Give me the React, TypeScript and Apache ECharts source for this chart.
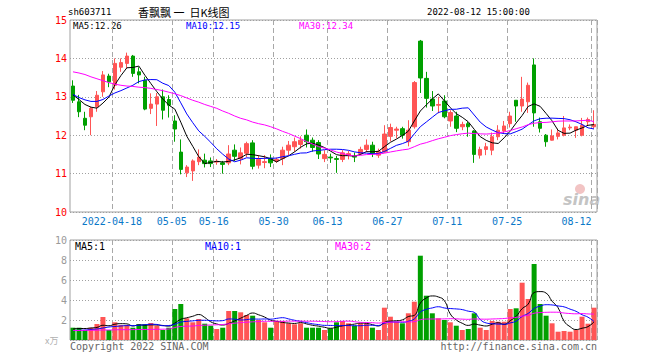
import React, { useEffect, useRef } from "react";
import * as echarts from "echarts";

const dates = [
  "2022-04-07","2022-04-08","2022-04-11","2022-04-12","2022-04-13","2022-04-14","2022-04-15","2022-04-18","2022-04-19","2022-04-20",
  "2022-04-21","2022-04-22","2022-04-25","2022-04-26","2022-04-27","2022-04-28","2022-04-29","2022-05-05","2022-05-06","2022-05-09",
  "2022-05-10","2022-05-11","2022-05-12","2022-05-13","2022-05-16","2022-05-17","2022-05-18","2022-05-19","2022-05-20","2022-05-23",
  "2022-05-24","2022-05-25","2022-05-26","2022-05-27","2022-05-30","2022-05-31","2022-06-01","2022-06-02","2022-06-06","2022-06-07",
  "2022-06-08","2022-06-09","2022-06-10","2022-06-13","2022-06-14","2022-06-15","2022-06-16","2022-06-17","2022-06-20","2022-06-21",
  "2022-06-22","2022-06-23","2022-06-24","2022-06-27","2022-06-28","2022-06-29","2022-06-30","2022-07-01","2022-07-04","2022-07-05",
  "2022-07-06","2022-07-07","2022-07-08","2022-07-11","2022-07-12","2022-07-13","2022-07-14","2022-07-15","2022-07-18","2022-07-19",
  "2022-07-20","2022-07-21","2022-07-22","2022-07-25","2022-07-26","2022-07-27","2022-07-28","2022-07-29","2022-08-01","2022-08-02",
  "2022-08-03","2022-08-04","2022-08-05","2022-08-08","2022-08-09","2022-08-10","2022-08-11","2022-08-12",
];

const tickDates = ["2022-04-18","2022-05-05","2022-05-16","2022-05-30","2022-06-13","2022-06-27","2022-07-11","2022-07-25","2022-08-12"];

const opens = [
  13.28,12.87,12.44,12.48,12.74,13.13,13.54,13.30,13.77,13.87,
  14.06,13.65,13.43,12.70,12.81,13.00,12.93,12.37,11.56,11.02,
  11.07,11.31,11.35,11.33,11.30,11.28,11.28,11.61,11.39,11.53,
  11.80,11.22,11.29,11.40,11.33,11.39,11.61,11.70,11.76,12.00,
  11.87,11.81,11.39,11.43,11.39,11.37,11.48,11.45,11.52,11.63,
  11.74,11.48,11.56,11.97,12.13,12.17,11.83,12.22,14.45,13.48,
  12.94,12.78,12.89,12.37,12.50,12.22,12.30,12.11,11.48,11.63,
  11.61,11.96,12.11,12.30,12.91,12.76,12.87,13.83,12.35,12.00,
  11.87,11.97,12.00,12.19,12.13,12.00,12.35,12.22,
];
const closes = [
  12.91,12.61,12.26,12.70,13.04,13.57,13.39,13.87,13.89,14.06,
  13.61,13.57,12.68,12.81,13.00,12.65,12.78,12.16,11.11,11.17,
  11.33,11.43,11.26,11.26,11.32,11.24,11.51,11.45,11.54,11.78,
  11.19,11.37,11.31,11.28,11.37,11.61,11.74,11.83,11.87,11.83,
  11.68,11.51,11.50,11.41,11.37,11.54,11.52,11.43,11.63,11.74,
  11.52,11.58,12.03,12.20,12.16,12.00,12.13,13.37,13.49,12.96,
  12.76,12.80,12.48,12.59,12.18,12.28,12.22,11.50,11.63,11.70,
  11.96,12.13,12.24,12.50,12.76,12.94,13.30,12.58,12.18,11.83,
  11.98,12.06,12.19,12.21,12.22,12.26,12.41,12.28,
];
const highs = [
  13.43,13.05,12.61,12.74,13.15,13.67,13.60,14.00,14.00,14.15,
  14.09,13.77,13.52,13.09,13.10,13.19,13.04,12.52,11.89,11.22,
  11.37,11.63,11.52,11.42,11.38,11.33,11.74,11.76,11.68,11.83,
  11.87,11.48,11.48,11.50,11.42,11.70,11.85,11.94,11.97,12.15,
  11.94,11.87,11.61,11.52,11.46,11.61,11.59,11.55,11.70,11.89,
  11.83,11.65,12.26,12.30,12.22,12.22,12.39,13.41,14.48,13.65,
  13.15,13.00,13.04,12.65,12.61,12.35,12.35,12.13,11.70,11.80,
  12.07,12.26,12.37,12.61,12.91,13.52,13.37,14.00,12.46,12.03,
  12.15,12.17,12.50,12.28,12.22,12.45,12.46,12.65,
];
const lows = [
  12.84,12.47,12.13,12.00,12.61,13.00,13.25,13.19,13.65,13.74,
  13.52,13.35,12.65,12.55,12.24,12.41,12.46,11.83,10.98,10.91,
  10.81,11.22,11.16,11.17,11.23,11.00,11.22,11.33,11.24,11.43,
  11.11,11.13,11.14,11.17,11.28,11.22,11.48,11.57,11.65,11.68,
  11.57,11.38,11.30,11.28,11.02,11.30,11.37,11.30,11.48,11.56,
  11.43,11.41,11.54,11.84,11.92,11.91,11.71,12.17,13.10,12.72,
  12.63,12.57,12.44,12.22,12.08,12.13,11.96,11.28,11.39,11.48,
  11.48,11.87,12.04,12.20,12.35,12.61,12.58,12.22,12.07,11.70,
  11.86,11.89,11.97,12.13,11.93,11.97,12.24,12.17,
];
// volume in 万手
const volumes = [
  1.23,1.23,1.0,1.23,1.6,2.3,1.0,1.77,1.5,1.5,
  1.23,1.57,1.57,1.7,1.43,1.0,1.23,3.1,3.6,2.17,
  1.77,2.1,1.63,1.43,1.1,1.23,2.9,2.9,2.77,2.5,
  2.43,2.0,1.77,1.23,1.9,1.9,1.67,1.57,1.67,1.23,
  1.23,1.23,1.0,1.17,1.77,1.9,1.67,1.43,1.67,1.67,
  1.23,1.0,3.23,2.33,1.83,1.67,2.67,3.83,8.43,4.43,
  2.67,2.17,2.0,1.77,1.43,1.0,1.1,2.67,1.23,1.0,
  1.9,1.83,1.83,3.1,3.17,5.73,4.1,7.6,3.6,2.43,
  1.67,0.83,0.9,0.83,1.0,2.33,1.63,3.23,
];

const ma5Head = [13.05, 12.93, 12.8, 12.73];
const ma10Head = [13.06, 12.98, 12.92, 12.88, 12.88, 12.93, 13.02, 13.1, 13.16];
const ma30Head = [
  13.65,13.62,13.58,13.52,13.47,13.42,13.37,13.33,13.3,13.28,
  13.27,13.25,13.24,13.22,13.19,13.16,13.12,13.08,13.03,12.97,
  12.91,12.86,12.8,12.75,12.7,12.63,12.57,12.5,12.44,
];
const volMa5Head = [1.1, 1.15, 1.15, 1.2];
const volMa10Head = [0.95, 0.97, 1.0, 1.05, 1.1, 1.2, 1.3, 1.35, 1.4];
const volMa30Head = [
  0.95,0.95,0.96,0.97,0.98,1.0,1.0,1.02,1.03,1.03,
  1.04,1.05,1.05,1.06,1.07,1.08,1.1,1.25,1.35,1.38,
  1.4,1.45,1.48,1.5,1.52,1.55,1.62,1.68,1.74,
];

const UP = "#ff5555";
const DOWN = "#00a000";
const MONO = "DejaVu Sans Mono";

function movingAvg(values: number[], n: number, head: number[]) {
  return values.map((_, i) => {
    if (i < n - 1) return head[i];
    let s = 0;
    for (let k = i - n + 1; k <= i; k++) s += values[k];
    return +(s / n).toFixed(3);
  });
}

export default function App() {
  const ref = useRef<HTMLDivElement>(null);
  useEffect(() => {
    const chart = echarts.init(ref.current!, null, { renderer: "svg" });
    const candleData = dates.map((_, i) => [opens[i], closes[i], lows[i], highs[i]]);
    const volData = volumes.map((v, i) => ({
      value: v,
      itemStyle: { color: closes[i] >= opens[i] ? UP : DOWN },
    }));
    const tickIdx = tickDates.map((d) => dates.indexOf(d));
    const showTick = (idx: number) => tickIdx.includes(idx);
    const lastIdx = dates.length - 1;
    const splitLine = { show: true, interval: showTick, lineStyle: { type: [5, 3], color: "#a8a8a8", width: 1 } };
    const txt = (text: string, x: number, y: number, fill: string, extra: any = {}) => ({
      type: "text",
      x,
      y,
      silent: true,
      style: { text, fill, font: `9px "${MONO}"`, textVerticalAlign: "middle", ...extra },
    });
    const line = (data: number[], color: string, xi: number, smooth = false) => ({
      type: "line",
      data,
      xAxisIndex: xi,
      yAxisIndex: xi,
      showSymbol: false,
      symbol: "none",
      smooth,
      lineStyle: { color, width: 1 },
      z: 3,
    });
    chart.setOption({
      animation: false,
      backgroundColor: "#ffffff",
      grid: [
        { left: 70, top: 20, width: 527, height: 192, show: true, borderColor: "#a0a0a0", borderWidth: 1 },
        { left: 70, top: 240, width: 527, height: 100, show: true, borderColor: "#a0a0a0", borderWidth: 1 },
      ],
      xAxis: [
        {
          type: "category",
          data: dates,
          gridIndex: 0,
          boundaryGap: true,
          axisLine: { show: false },
          axisTick: { show: false },
          axisLabel: {
            interval: showTick,
            hideOverlap: false,
            margin: 4,
            formatter: (v: string, idx: number) => {
              const t = v === tickDates[0] ? v : v.slice(5);
              return idx === lastIdx || v === dates[lastIdx] ? `{r|${t}}` : `{n|${t}}`;
            },
            rich: {
              n: { color: "#0a78c8", fontFamily: MONO, fontSize: 10, padding: [0, 6, 0, 0] },
              r: { color: "#0a78c8", fontFamily: MONO, fontSize: 10, padding: [0, 35, 0, 0] },
            },
          },
          splitLine,
        },
        {
          type: "category",
          data: dates,
          gridIndex: 1,
          boundaryGap: true,
          axisLine: { show: false },
          axisTick: { show: false },
          axisLabel: { show: false },
          splitLine,
        },
      ],
      yAxis: [
        {
          type: "value",
          gridIndex: 0,
          min: 10,
          max: 15,
          interval: 1,
          axisLine: { show: false },
          axisTick: { show: false },
          axisLabel: { color: "#ff0000", fontFamily: MONO, fontSize: 10, margin: 3 },
          splitLine: { lineStyle: { type: [1, 2], color: "#a0a0a0" } },
        },
        {
          type: "value",
          gridIndex: 1,
          min: 0,
          max: 10,
          interval: 2,
          axisLine: { show: false },
          axisTick: { show: false },
          axisLabel: {
            color: "#9a9a9a",
            fontFamily: MONO,
            fontSize: 10,
            margin: 3,
            formatter: (v: number) => (v === 0 ? "" : String(v)),
          },
          splitLine: { lineStyle: { type: [1, 2], color: "#a0a0a0" } },
        },
      ],
      series: [
        {
          type: "candlestick",
          data: candleData,
          xAxisIndex: 0,
          yAxisIndex: 0,
          barWidth: 4,
          itemStyle: { color: UP, color0: DOWN, borderColor: UP, borderColor0: DOWN, borderWidth: 1 },
          z: 2,
        },
        line(movingAvg(closes, 5, ma5Head), "#000000", 0),
        line(movingAvg(closes, 10, ma10Head), "#0000ff", 0),
        line(movingAvg(closes, 30, ma30Head), "#ff00ff", 0),
        {
          type: "bar",
          data: volData,
          xAxisIndex: 1,
          yAxisIndex: 1,
          barWidth: 5,
          z: 2,
        },
        line(movingAvg(volumes, 5, volMa5Head), "#000000", 1, true),
        line(movingAvg(volumes, 10, volMa10Head), "#0000ff", 1, true),
        line(movingAvg(volumes, 30, volMa30Head), "#ff00ff", 1, true),
      ],
      graphic: [
        txt("sh603711", 68, 12, "#000"),
        {
          type: "text",
          x: 138,
          y: 12,
          silent: true,
          style: { text: "香飘飘 一  日K线图", fill: "#000", font: '11px "Noto Sans CJK SC"', textVerticalAlign: "middle" },
        },
        txt("2022-08-12 15:00:00", 427, 12, "#000"),
        txt("MA5:12.26", 73, 26, "#000"),
        txt("MA10:12.15", 186, 26, "#0000ff"),
        txt("MA30:12.34", 299, 26, "#ff00ff"),
        txt("MA5:1", 75, 246, "#000", { font: `10px "${MONO}"` }),
        txt("MA10:1", 205, 246, "#0000ff", { font: `10px "${MONO}"` }),
        txt("MA30:2", 335, 246, "#ff00ff", { font: `10px "${MONO}"` }),
        txt("x万", 45, 340, "#b0b0b0", { font: '9px "Noto Sans CJK SC"' }),
        txt("Copyright 2022 SINA.COM", 70, 346, "#666", { font: `10px "${MONO}"` }),
        txt("http://finance.sina.com.cn", 597, 346, "#666", { font: `10px "${MONO}"`, textAlign: "right" }),
        { type: "circle", silent: true, shape: { cx: 580, cy: 189, r: 5 }, style: { fill: "#f2c4c4" } },
        {
          type: "text",
          x: 563,
          y: 199,
          silent: true,
          style: { text: "sina", fill: "#c4c4c4", font: 'italic bold 16px "DejaVu Sans"', textVerticalAlign: "middle" },
        },
      ],
    });
    return () => chart.dispose();
  }, []);
  return (
    <div
      ref={ref}
      style={{ position: "fixed", left: 0, top: 0, width: 660, height: 360, background: "#fff" }}
    />
  );
}
